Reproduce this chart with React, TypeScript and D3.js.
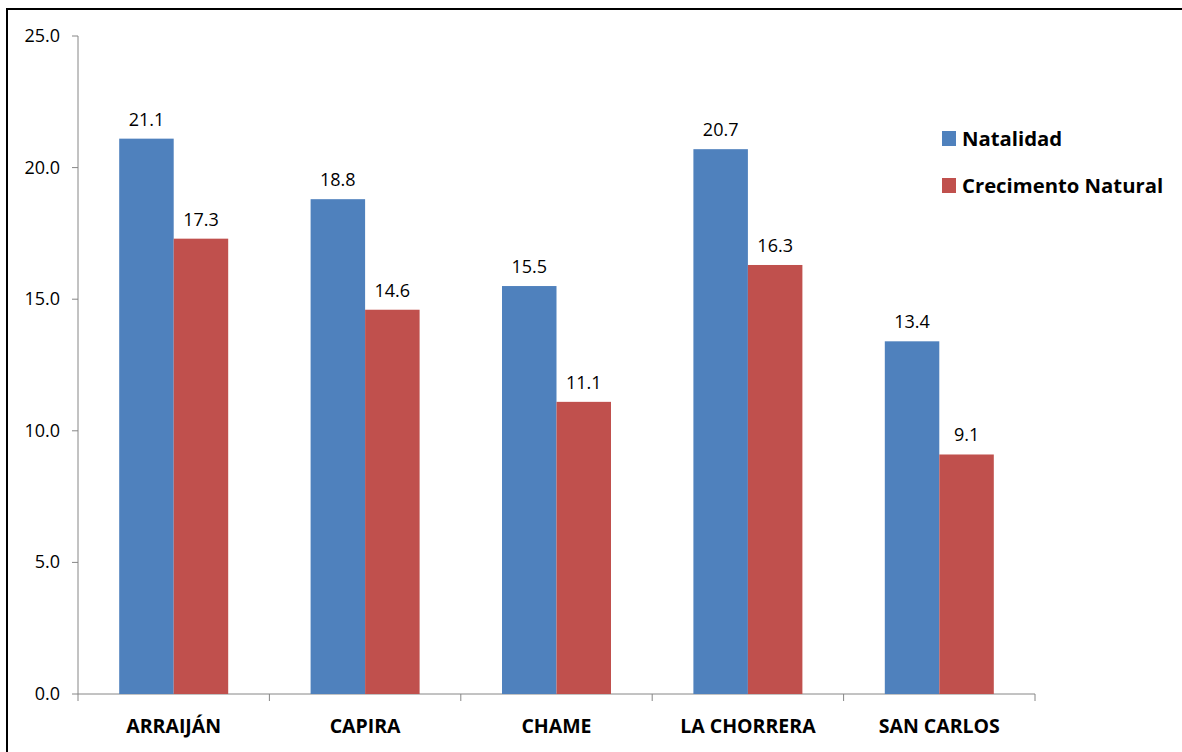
import React from "react";
import * as d3 from "d3";

const categories = ["ARRAIJÁN", "CAPIRA", "CHAME", "LA CHORRERA", "SAN CARLOS"];
const natalidad = [21.1, 18.8, 15.5, 20.7, 13.4];
const crecimiento = [17.3, 14.6, 11.1, 16.3, 9.1];
const seriesNames = ["Natalidad", "Crecimento Natural"];
const seriesColors = ["#4F81BD", "#C0504D"];
const yTicks = [0, 5, 10, 15, 20, 25];

const W = 1182;
const H = 752;
const FONT = "'Open Sans', sans-serif";

export default function App() {
  const x0 = 78;
  const x1 = 1035;
  const yTop = 36;
  const yBot = 694;

  const x = d3.scaleBand<string>().domain(categories).range([x0, x1]).paddingInner(0).paddingOuter(0);
  const y = d3.scaleLinear().domain([0, 25]).range([yBot, yTop]);
  const barW = 54.5;
  const series = [natalidad, crecimiento];

  return (
    <svg
      width={W}
      height={H}
      style={{ position: "absolute", left: 0, top: 0, background: "#fff" }}
      fontFamily={FONT}
    >
      {/* outer frame */}
      <rect x={7} y={9} width={W + 20} height={H + 20} fill="none" stroke="#000" strokeWidth={2} />

      {/* y axis */}
      <line x1={x0} x2={x0} y1={yTop} y2={yBot} stroke="#868686" strokeWidth={1} />
      {yTicks.map((t) => (
        <g key={t}>
          <line x1={x0 - 6} x2={x0} y1={y(t)} y2={y(t)} stroke="#868686" />
          <text x={60} y={y(t) + 6} textAnchor="end" fontSize={18} fill="#000">
            {t.toFixed(1)}
          </text>
        </g>
      ))}

      {/* x axis */}
      <line x1={x0} x2={x1} y1={yBot} y2={yBot} stroke="#868686" />
      {[...categories.map((c) => x(c) as number), x1].map((px, i) => (
        <line key={i} x1={px} x2={px} y1={yBot} y2={yBot + 7} stroke="#868686" />
      ))}

      {/* bars and value labels */}
      {categories.map((c, i) => {
        const cx = (x(c) as number) + x.bandwidth() / 2;
        return (
          <g key={c}>
            {series.map((s, j) => {
              const bx = cx - barW + j * barW;
              return (
                <g key={j}>
                  <rect x={bx} y={y(s[i])} width={barW} height={yBot - y(s[i])} fill={seriesColors[j]} />
                  <text x={bx + barW / 2} y={y(s[i]) - 13} textAnchor="middle" fontSize={18} fill="#000">
                    {s[i].toFixed(1)}
                  </text>
                </g>
              );
            })}
            <text x={cx} y={733} textAnchor="middle" fontSize={19.5} fontWeight="bold" fill="#000">
              {c}
            </text>
          </g>
        );
      })}

      {/* legend */}
      {seriesNames.map((n, j) => (
        <g key={n} transform={`translate(942, ${131 + j * 47})`}>
          <rect x={0} y={0} width={14} height={15} fill={seriesColors[j]} />
          <text x={20} y={15} fontSize={20.3} fontWeight="bold" fill="#000">
            {n}
          </text>
        </g>
      ))}
    </svg>
  );
}
